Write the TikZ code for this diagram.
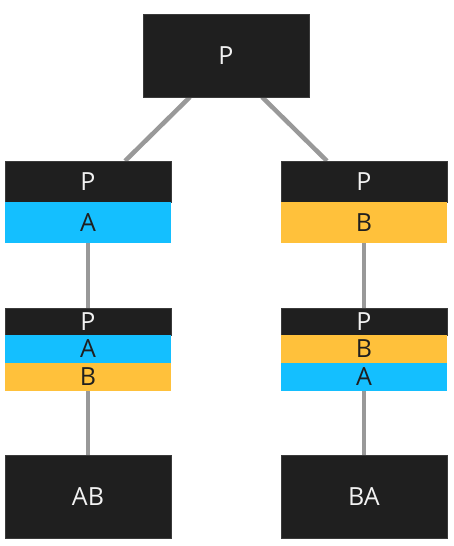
\documentclass[tikz,border=0pt]{standalone}
\usepackage{fontspec}
\setmainfont{Open Sans}
\usetikzlibrary{calc,backgrounds}
\definecolor{boxblack}{HTML}{1F1F1F}
\definecolor{boxedge}{HTML}{3A3A3A}
\definecolor{cyanband}{HTML}{14BFFF}
\definecolor{orangeband}{HTML}{FFC13B}
\definecolor{linkgray}{HTML}{999999}
\definecolor{lighttext}{HTML}{F2F2F2}
\begin{document}
\begin{tikzpicture}[x=1pt,y=-1pt,
  cell/.style={rectangle,inner sep=0pt,outer sep=0pt,minimum width=166pt,
    font=\fontsize{25}{25}\selectfont},
  pcell/.style={cell,fill=boxblack,draw=boxedge,line width=0.8pt,text=lighttext},
  acell/.style={cell,fill=cyanband,text=boxblack},
  bcell/.style={cell,fill=orangeband,text=boxblack},
  link/.style={draw=linkgray,line width=4.5pt}]
\useasboundingbox (0,0) rectangle (453,546);
% top
\node[pcell,minimum height=83pt] (top) at (226,55.5) {P};
% level 2
\node[pcell,minimum height=41pt] (lP) at (88,181.5) {P};
\node[acell,minimum height=41pt] (lA) at (88,222.5) {A};
\node[pcell,minimum height=41pt] (rP) at (364,181.5) {P};
\node[bcell,minimum height=41pt] (rB) at (364,222.5) {B};
% level 3
\node[pcell,minimum height=27pt] (llP) at (88,321.5) {P};
\node[acell,minimum height=28pt] (llA) at (88,349) {A};
\node[bcell,minimum height=28pt] (llB) at (88,377) {B};
\node[pcell,minimum height=27pt] (rrP) at (364,321.5) {P};
\node[bcell,minimum height=28pt] (rrB) at (364,349) {B};
\node[acell,minimum height=28pt] (rrA) at (364,377) {A};
% bottom
\node[pcell,minimum height=83pt] (AB) at (88,496.5) {AB};
\node[pcell,minimum height=83pt] (BA) at (364,496.5) {BA};
% connectors
\begin{scope}[on background layer]
\draw[link] ($(top.south west)!0.283!(top.south east)$) -- ($(lP.north west)!0.723!(lP.north east)$);
\draw[link] ($(top.south west)!0.717!(top.south east)$) -- ($(rP.north west)!0.277!(rP.north east)$);
\draw[link] (lA.south) -- (llP.north);
\draw[link] (llB.south) -- (AB.north);
\draw[link] (rB.south) -- (rrP.north);
\draw[link] (rrA.south) -- (BA.north);
\end{scope}
\end{tikzpicture}
\end{document}
